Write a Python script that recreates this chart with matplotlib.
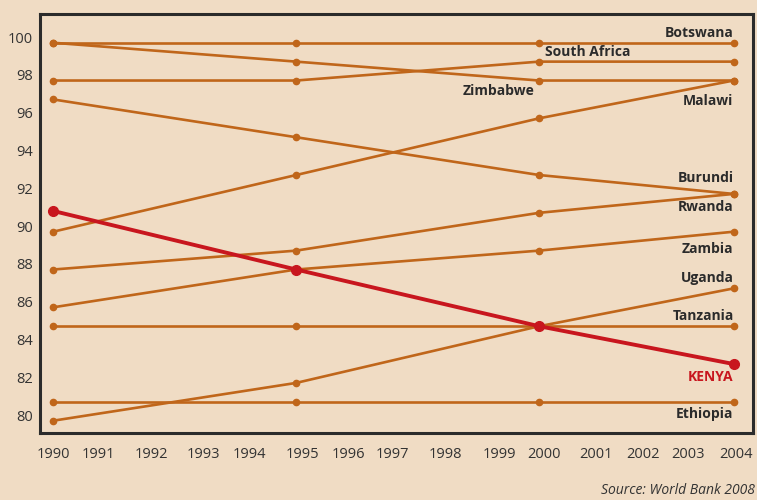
import matplotlib
matplotlib.use("Agg")
import matplotlib.pyplot as plt

# Data (years on x, value on y)
years = [1990, 1995, 2000, 2004]
botswana = [99.7, 99.7, 99.7, 99.7]
zimbabwe = [99.7, 98.7, 97.7, 97.7]
south_africa = [97.7, 97.7, 98.7, 98.7]
malawi = [89.7, 92.7, 95.7, 97.7]
burundi = [96.7, 94.7, 92.7, 91.7]
rwanda = [87.7, 88.7, 90.7, 91.7]
zambia = [85.7, 87.7, 88.7, 89.7]
uganda = [79.7, 81.7, 84.7, 86.7]
tanzania = [84.7, 84.7, 84.7, 84.7]
ethiopia = [80.7, 80.7, 80.7, 80.7]
kenya = [90.8, 87.7, 84.7, 82.7]

x_labels = [str(y) for y in range(1990, 2005)]
# the original places its year labels a little unevenly
x_label_pos = [1990.0, 1990.93, 1992.02, 1993.1, 1994.04, 1995.13, 1996.07,
               1996.98, 1998.08, 1999.18, 2000.1, 2001.18, 2002.13, 2003.07,
               2004.06]
y_ticks = list(range(80, 101, 2))

BG = "#f0dcc4"
ORANGE = "#c0661a"
RED = "#c8161e"
DARK = "#2b2b2b"
FONT = "Open Sans"

others = [
    ("Botswana", botswana),
    ("Zimbabwe", zimbabwe),
    ("South Africa", south_africa),
    ("Malawi", malawi),
    ("Burundi", burundi),
    ("Rwanda", rwanda),
    ("Zambia", zambia),
    ("Uganda", uganda),
    ("Tanzania", tanzania),
    ("Ethiopia", ethiopia),
]

# label placement: (index of anchor point, x offset px, y offset px, ha)
label_pos = {
    "Botswana": (3, 0, 10, "right"),
    "Zimbabwe": (2, -5, -10, "right"),
    "South Africa": (2, 6, 10, "left"),
    "Malawi": (3, 0, -20, "right"),
    "Burundi": (3, 0, 16, "right"),
    "Rwanda": (3, 0, -13, "right"),
    "Zambia": (3, 0, -17, "right"),
    "Uganda": (3, 0, 10, "right"),
    "Tanzania": (3, 0, 10, "right"),
    "Ethiopia": (3, 0, -12, "right"),
    "KENYA": (3, 0, -13, "right"),
}

px = 72 / 100  # pixels -> points

fig = plt.figure(figsize=(7.57, 5.0), dpi=100, facecolor=BG)
ax = fig.add_axes([40 / 757, 1 - 433 / 500, 713 / 757, 419 / 500])
ax.set_facecolor(BG)

for name, vals in others:
    ax.plot(years, vals, color=ORANGE, lw=1.9, marker="o", ms=4.5,
            solid_capstyle="round", zorder=2)
ax.plot(years, kenya, color=RED, lw=2.8, marker="o", ms=7, zorder=3)

for name, vals in others + [("KENYA", kenya)]:
    i, dx, dy, ha = label_pos[name]
    ax.annotate(name, (years[i], vals[i]), xytext=(dx * px, dy * px),
                textcoords="offset points", ha=ha, va="center",
                fontsize=10, fontweight="bold", family=FONT,
                color=RED if name == "KENYA" else DARK)

ax.set_xlim(1989.73, 2004.4)
ax.set_ylim(79.05, 101.22)
ax.set_xticks(x_label_pos, x_labels)
ax.set_yticks(y_ticks)
ax.tick_params(length=0, labelsize=10.5, colors="#333333")
ax.tick_params(axis="x", pad=10)
ax.tick_params(axis="y", pad=5)
for lab in ax.get_xticklabels() + ax.get_yticklabels():
    lab.set_family(FONT)

for s in ax.spines.values():
    s.set_color(DARK)
    s.set_linewidth(2.2)

fig.text(0.997, 0.018, "Source: World Bank 2008", ha="right", va="center",
         fontsize=10, style="italic", family=FONT, color="#333333")

fig.savefig("out.png", dpi=100, facecolor=BG)
